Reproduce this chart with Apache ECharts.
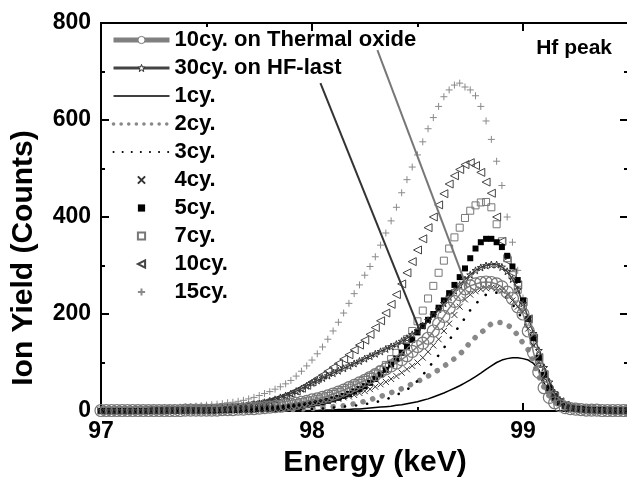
<!DOCTYPE html>
<html>
<head>
<meta charset="utf-8">
<script src="https://cdn.jsdelivr.net/npm/echarts@6/dist/echarts.min.js"></script>
<style>
  html, body { margin: 0; padding: 0; background: #fff; }
  #chart { width: 627px; height: 480px; }
</style>
</head>
<body>
<div id="chart"></div>
<script>
// energy grid (keV), 0.025 step
const energy = [
  97.000, 97.025, 97.050, 97.075, 97.100, 97.125, 97.150, 97.175, 97.200, 97.225,
  97.250, 97.275, 97.300, 97.325, 97.350, 97.375, 97.400, 97.425, 97.450, 97.475,
  97.500, 97.525, 97.550, 97.575, 97.600, 97.625, 97.650, 97.675, 97.700, 97.725,
  97.750, 97.775, 97.800, 97.825, 97.850, 97.875, 97.900, 97.925, 97.950, 97.975,
  98.000, 98.025, 98.050, 98.075, 98.100, 98.125, 98.150, 98.175, 98.200, 98.225,
  98.250, 98.275, 98.300, 98.325, 98.350, 98.375, 98.400, 98.425, 98.450, 98.475,
  98.500, 98.525, 98.550, 98.575, 98.600, 98.625, 98.650, 98.675, 98.700, 98.725,
  98.750, 98.775, 98.800, 98.825, 98.850, 98.875, 98.900, 98.925, 98.950, 98.975,
  99.000, 99.025, 99.050, 99.075, 99.100, 99.125, 99.150, 99.175, 99.200, 99.225,
  99.250, 99.275, 99.300, 99.325, 99.350, 99.375, 99.400, 99.425, 99.450, 99.475,
  99.500
];

// ion yield (counts) per series, same order as energy
const thermal10 = [
  1,1,1,1,1,1,1,1,1,1,1,1,1,1,1,1,2,2,2,2,
  2,2,2,3,3,3,4,4,5,5,6,7,8,9,10,12,14,16,18,20,
  23,25,28,31,35,39,43,48,53,58,63,69,75,81,87,93,99,106,114,123,
  133,140,150,165,180,195,212,226,240,252,258,262,265,266,265,262,256,245,232,215,
  200,165,120,80,48,28,17,11,7,5,4,3,2,2,2,1,1,1,1,1,
  1
];
const hfLast30 = [
  1,1,1,1,1,1,1,1,1,2,2,2,2,2,3,3,3,3,4,4,
  4,5,5,6,7,8,9,10,12,14,16,18,21,24,28,32,36,41,46,52,
  58,63,68,73,78,83,88,93,98,103,108,113,118,123,128,133,138,144,150,158,
  166,176,187,198,210,222,235,248,260,271,281,290,296,300,302,302,297,288,272,250,
  222,192,160,125,90,60,38,23,14,9,6,4,3,3,2,2,2,1,1,1,
  1
];
const cy1 = [
  0,0,0,0,0,0,0,0,0,0,0,0,0,0,0,0,0,0,0,0,
  0,0,0,0,0,0,0,0,0,0,0,0,1,1,1,1,1,1,1,1,
  1,1,2,2,2,3,3,3,4,4,5,6,7,8,9,10,12,13,15,17,
  19,22,25,29,33,37,42,47,52,58,64,71,78,86,93,100,105,108,110,110,
  108,105,98,85,58,32,18,11,7,4,3,2,1,1,1,1,0,0,0,0,
  0
];
const cy2 = [
  0,0,0,0,0,0,0,0,0,0,0,0,0,0,0,0,0,0,0,0,
  0,0,0,0,1,1,1,1,1,1,2,2,2,2,2,3,3,3,4,4,
  5,6,7,8,9,10,11,13,15,17,20,23,27,30,34,38,42,46,51,56,
  61,66,72,78,85,92,100,108,117,128,142,152,161,170,180,183,182,178,170,156,
  140,126,100,72,48,30,18,11,7,5,3,2,2,1,1,1,0,0,0,0,
  0
];
const cy3 = [
  0,0,0,0,0,0,0,0,0,0,0,0,0,0,0,0,0,0,0,0,
  0,0,0,0,1,1,1,1,1,1,1,1,2,2,2,2,3,3,3,4,
  4,5,5,6,7,8,9,10,11,12,14,16,18,21,24,28,33,38,44,52,
  62,74,88,102,115,130,146,162,176,192,208,220,232,240,244,244,240,232,220,205,
  188,165,135,100,68,42,25,15,9,6,4,3,2,2,1,1,1,1,1,1,
  1
];
const cy4 = [
  0,0,0,0,0,0,0,0,0,0,1,1,1,1,1,1,1,1,1,1,
  1,2,2,2,2,3,3,3,4,4,5,5,6,7,8,9,10,11,12,13,
  15,16,18,20,22,25,28,30,33,37,41,45,50,55,60,66,72,79,86,93,
  100,110,122,135,148,165,180,198,215,230,240,247,251,253,254,253,248,240,228,215,
  205,170,135,100,68,42,26,16,10,6,4,3,2,2,2,1,1,1,1,1,
  1
];
const cy5 = [
  0,0,0,0,0,0,0,0,0,0,1,1,1,1,1,1,1,1,1,1,
  1,1,1,2,2,2,2,3,3,3,4,4,5,5,6,7,8,9,10,12,
  14,16,18,21,24,27,31,35,40,45,51,58,66,75,85,96,108,120,133,147,
  162,175,188,200,213,228,243,260,276,294,315,335,348,355,355,348,338,320,298,270,
  228,190,150,110,75,48,30,18,11,7,5,4,3,2,2,2,1,1,1,1,
  1
];
const cy7 = [
  1,1,1,1,1,1,1,1,1,1,1,1,1,2,2,2,2,2,2,2,
  2,2,3,3,3,4,4,5,5,6,7,8,9,10,11,12,14,16,18,20,
  22,25,28,31,35,39,43,48,53,58,64,70,77,85,95,107,120,133,148,165,
  185,207,232,258,285,310,335,358,378,398,413,424,430,431,420,385,350,315,280,250,
  215,180,145,105,72,45,28,18,11,7,5,4,3,3,2,2,2,1,1,1,
  1
];
const cy10 = [
  1,1,1,1,1,1,2,2,2,2,2,2,3,3,3,3,4,4,4,5,
  5,5,6,6,7,8,9,10,12,13,15,17,20,23,27,31,36,41,47,53,
  60,67,74,82,90,98,107,116,126,136,146,158,172,186,202,220,240,262,285,308,
  332,355,378,400,425,448,468,485,498,508,512,506,492,472,449,400,350,310,285,260,
  225,190,150,110,75,42,30,19,12,8,6,4,3,3,2,2,2,1,1,1,
  1
];
const cy15 = [
  2,2,2,3,3,3,3,4,4,4,5,5,6,6,7,8,8,9,10,11,
  12,13,14,15,17,18,20,22,25,28,32,36,40,45,50,56,63,72,82,93,
  105,118,132,148,165,183,202,222,242,260,280,298,318,342,367,392,420,450,477,503,
  528,555,582,605,628,648,662,672,676,668,662,650,628,598,560,515,465,400,348,290,
  233,185,140,100,68,45,28,18,12,8,6,5,4,3,3,2,2,2,2,2,
  2
];

const legendNames = [
  '10cy. on Thermal oxide', '30cy. on HF-last', '1cy.', '2cy.', '3cy.',
  '4cy.', '5cy.', '7cy.', '10cy.', '15cy.'
];
const xTicks = [97, 98, 99, 100];
const yTicks = [0, 200, 400, 600, 800];

// pointer lines from the legend text to the curves [energy, counts]
const thermalPointer = [[98.31, 744], [98.735, 254]];
const hfPointer = [[98.04, 676], [98.51, 167]];

const FONT = 'Arial, "Liberation Sans", sans-serif';
const PLUS = 'path://M5,0 L5,10 M0,5 L10,5';
const CROSS = 'path://M0,0 L10,10 M10,0 L0,10';
const LTRI = 'path://M10,0 L0,5 L10,10 Z';
const STAR = 'path://M5,0 L6.2,3.6 L10,3.8 L7,6.1 L8.1,9.8 L5,7.6 L1.9,9.8 L3,6.1 L0,3.8 L3.8,3.6 Z';

const pairs = vals => energy.map((e, i) => [e, vals[i]]);

function markers(name, vals, symbol, size, itemStyle) {
  return {
    name, type: 'line', data: pairs(vals),
    symbol, symbolSize: size, showAllSymbol: true,
    lineStyle: { width: 0 },
    itemStyle
  };
}

function pointer(coords, color) {
  return {
    silent: true, animation: false, symbol: ['none', 'none'],
    label: { show: false },
    lineStyle: { color, width: 2, type: 'solid' },
    data: [[{ coord: coords[0] }, { coord: coords[1] }]]
  };
}

const series = [
  {
    name: '1cy.', type: 'line', data: pairs(cy1), symbol: 'none',
    lineStyle: { color: '#000', width: 1.5 }, itemStyle: { color: '#000' }
  },
  {
    name: '2cy.', type: 'line', data: pairs(cy2), symbol: 'none',
    lineStyle: { color: '#888', width: 5.5, type: [0.1, 10], cap: 'round' },
    itemStyle: { color: '#888' }
  },
  {
    name: '3cy.', type: 'line', data: pairs(cy3), symbol: 'none',
    lineStyle: { color: '#000', width: 2.6, type: [0.1, 11], cap: 'round' },
    itemStyle: { color: '#000' }
  },
  markers('15cy.', cy15, PLUS, 7, { color: 'none', borderColor: '#8a8a8a', borderWidth: 1 }),
  markers('10cy.', cy10, LTRI, 8, { color: 'none', borderColor: '#444', borderWidth: 1 }),
  markers('7cy.', cy7, 'rect', 7, { color: 'none', borderColor: '#777', borderWidth: 1 }),
  markers('5cy.', cy5, 'rect', 6, { color: '#000', borderColor: '#000', borderWidth: 0 }),
  markers('4cy.', cy4, CROSS, 6, { color: 'none', borderColor: '#333', borderWidth: 1 }),
  {
    name: '30cy. on HF-last', type: 'line', data: pairs(hfLast30),
    symbol: STAR, symbolSize: 7, showAllSymbol: true,
    lineStyle: { color: '#444', width: 1.5 },
    itemStyle: { color: 'none', borderColor: '#333', borderWidth: 1 },
    markLine: pointer(hfPointer, '#333')
  },
  {
    name: '10cy. on Thermal oxide', type: 'line', data: pairs(thermal10),
    symbol: 'circle', symbolSize: 12, showAllSymbol: true,
    lineStyle: { color: '#808080', width: 1.5 },
    itemStyle: { color: 'none', borderColor: '#777', borderWidth: 1.2 },
    markLine: pointer(thermalPointer, '#777')
  }
];

// legend icon overrides (the plotted lines are thinner than the legend keys)
const legendKeys = {
  '10cy. on Thermal oxide': {
    lineStyle: { width: 5, color: '#808080' },
    itemStyle: { color: '#fff', borderColor: '#777', borderWidth: 1 }
  },
  '30cy. on HF-last': {
    lineStyle: { width: 3, color: '#444' },
    itemStyle: { color: '#fff', borderColor: '#333', borderWidth: 1 }
  },
  '1cy.': { lineStyle: { width: 1.5, color: '#000' }, itemStyle: { opacity: 0 } },
  '2cy.': { lineStyle: { width: 3.5, color: '#888', type: [0.1, 7.5], cap: 'round' }, itemStyle: { opacity: 0 } },
  '3cy.': { lineStyle: { width: 2, color: '#000', type: [0.1, 9], cap: 'round' }, itemStyle: { opacity: 0 } }
};

const axisBase = {
  type: 'value',
  axisLine: { show: true, onZero: false, lineStyle: { color: '#000', width: 2 } },
  axisTick: { show: true, inside: true, length: 8, lineStyle: { color: '#000', width: 2 } },
  minorTick: { show: true, splitNumber: 2, length: 4, lineStyle: { color: '#000', width: 2 } },
  splitLine: { show: false }
};

const chart = echarts.init(document.getElementById('chart'), null, { renderer: 'canvas' });

chart.setOption({
  animation: false,
  backgroundColor: '#fff',
  grid: { left: 101, top: 23, width: 633, height: 388, containLabel: false, outerBoundsMode: 'none' },
  legend: {
    orient: 'vertical',
    left: 111, top: 29,
    padding: 0,
    itemWidth: 56, itemHeight: 9, itemGap: 6,
    selectedMode: false,
    textStyle: { fontFamily: FONT, fontWeight: 'bold', fontSize: 22, color: '#000' },
    data: legendNames.map(n => Object.assign({ name: n }, legendKeys[n] || {}))
  },
  xAxis: [
    Object.assign({}, axisBase, {
      position: 'bottom', min: xTicks[0], max: xTicks[xTicks.length - 1], interval: 1,
      axisLabel: { show: true, margin: 9, color: '#000', fontFamily: FONT, fontWeight: 'bold', fontSize: 23 }
    }),
    Object.assign({}, axisBase, {
      position: 'top', min: xTicks[0], max: xTicks[xTicks.length - 1], interval: 1,
      axisLabel: { show: false }
    })
  ],
  yAxis: [
    Object.assign({}, axisBase, {
      position: 'left', min: yTicks[0], max: yTicks[yTicks.length - 1], interval: 200,
      axisLabel: { show: true, margin: 10, color: '#000', fontFamily: FONT, fontWeight: 'bold', fontSize: 23 }
    }),
    Object.assign({}, axisBase, {
      position: 'right', offset: -106, min: yTicks[0], max: yTicks[yTicks.length - 1], interval: 200,
      axisLabel: { show: false }
    })
  ],
  graphic: [
    {
      type: 'text', x: 375, y: 463,
      style: { text: 'Energy (keV)', font: 'bold 30px ' + FONT, fill: '#000', textAlign: 'center', textVerticalAlign: 'middle' }
    },
    {
      type: 'text', x: 24, y: 258, rotation: Math.PI / 2,
      style: { text: 'Ion Yield (Counts)', font: 'bold 30px ' + FONT, fill: '#000', textAlign: 'center', textVerticalAlign: 'middle' }
    },
    {
      type: 'text', x: 612, y: 48,
      style: { text: 'Hf peak', font: 'bold 21px ' + FONT, fill: '#000', textAlign: 'right', textVerticalAlign: 'middle' }
    }
  ],
  series
});
</script>
</body>
</html>
